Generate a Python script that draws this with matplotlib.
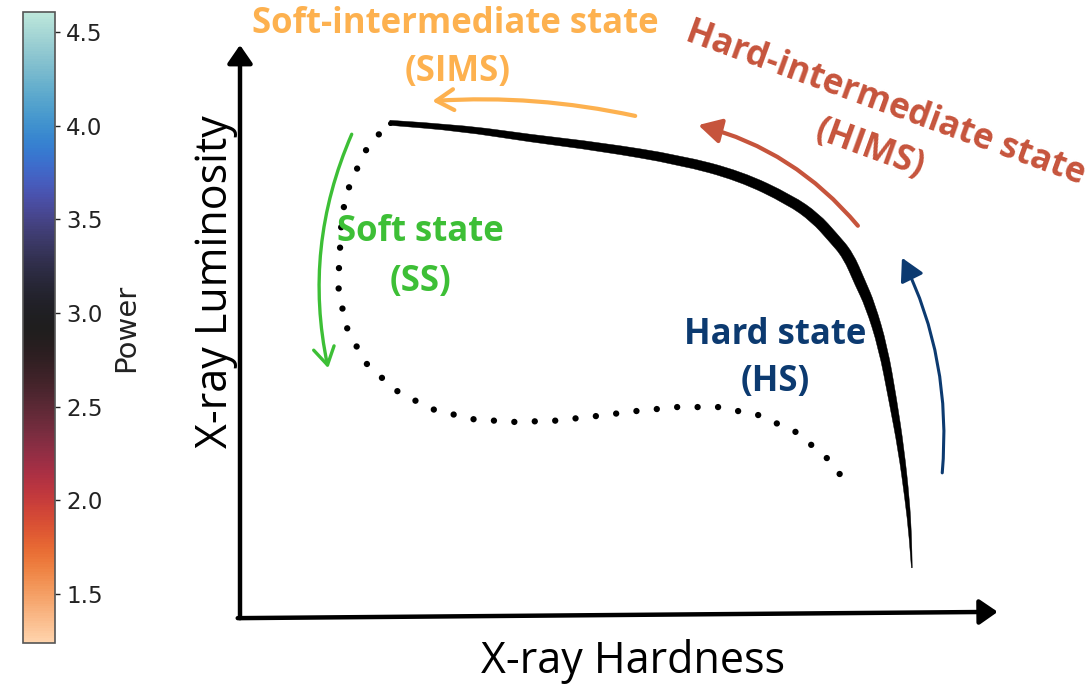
import numpy as np
import matplotlib
matplotlib.use("Agg")
import matplotlib.pyplot as plt
import matplotlib.colors as mcolors
from matplotlib.path import Path
from matplotlib.patches import PathPatch
from matplotlib.transforms import IdentityTransform
import seaborn as sns

# ---------------- data (schematic) ----------------
# main (thick) outburst track: hardness vs luminosity, normalised 0..1
track_hardness = [0.197, 0.290, 0.382, 0.474, 0.579, 0.658, 0.724, 0.757,
                  0.780, 0.800, 0.816, 0.829, 0.846, 0.859, 0.870, 0.878,
                  0.882, 0.884]
track_luminosity = [0.864, 0.855, 0.837, 0.822, 0.799, 0.771, 0.729, 0.698,
                    0.664, 0.633, 0.584, 0.546, 0.472, 0.379, 0.292, 0.205,
                    0.143, 0.086]

# decay (dotted) track
decay_hardness = [0.197, 0.168, 0.145, 0.134, 0.132, 0.129, 0.139, 0.164,
                  0.204, 0.251, 0.305, 0.359, 0.413, 0.467, 0.521, 0.575,
                  0.629, 0.682, 0.732, 0.772, 0.789]
decay_luminosity = [0.865, 0.822, 0.759, 0.703, 0.654, 0.580, 0.510, 0.446,
                    0.397, 0.364, 0.346, 0.341, 0.343, 0.351, 0.360, 0.367,
                    0.367, 0.353, 0.323, 0.278, 0.250]

# state labels and their transition arrows (tail -> head)
state_titles = ["Soft-intermediate state", "Hard-intermediate state",
                "Soft state", "Hard state"]
state_abbrev = ["(SIMS)", "(HIMS)", "(SS)", "(HS)"]
arrow_tail = [(0.520, 0.876), (0.813, 0.684), (0.147, 0.844), (0.924, 0.252)]
arrow_head = [(0.253, 0.902), (0.603, 0.860), (0.116, 0.435), (0.871, 0.628)]

x_label = "X-ray Hardness"
y_label = "X-ray Luminosity"
cbar_label = "Power"
cbar_range = (1.238, 4.607)
cbar_ticks = [1.5, 2.0, 2.5, 3.0, 3.5, 4.0, 4.5]

# ---------------- styles ----------------
track_thickness_px = [5, 6.5, 7.5, 8.5, 9.5, 10, 10.5, 11, 11, 11, 11, 10, 9, 8, 6, 4.5, 2.5, 0.8]
state_colors = ["#FDB14F", "#C6543C", "#3DBF36", "#0C3A70"]
title_pos = [(0.283, 1.037), (0.849, 0.897), (0.237, 0.673), (0.704, 0.493)]
abbrev_pos = [(0.286, 0.953), (0.829, 0.818), (0.237, 0.586), (0.704, 0.411)]
text_rot = [0, -20, 0, 0]
arrow_rad = [0.07, 0.16, 0.16, 0.14]
arrow_styles = ["->,head_length=0.5,head_width=0.3",
                "-|>,head_length=0.55,head_width=0.3",
                "->,head_length=0.5,head_width=0.3",
                "-|>,head_length=0.55,head_width=0.3"]
arrow_lw = [3.0, 3.0, 2.4, 2.2]

W, H, DPI = 1088, 686, 100
fig = plt.figure(figsize=(W / DPI, H / DPI), dpi=DPI)

# ---------------- main axes ----------------
ax = fig.add_axes([240 / W, 69 / H, 760 / W, 572 / H])
ax.set_xlim(0, 1)
ax.set_ylim(0, 1)
ax.axis("off")

# axis arrows
axis_style = "-|>,head_length=0.55,head_width=0.38"
ax.annotate("", xy=(0.0, 1.0), xytext=(0.0, -0.002),
            arrowprops=dict(arrowstyle=axis_style, color="black", lw=3.2,
                            mutation_scale=20, shrinkA=0, shrinkB=0),
            annotation_clip=False)
ax.annotate("", xy=(0.997, 0.009), xytext=(-0.003, -0.002),
            arrowprops=dict(arrowstyle=axis_style, color="black", lw=3.2,
                            mutation_scale=20, shrinkA=0, shrinkB=0),
            annotation_clip=False)

# thick track: smooth outline with varying width (built in display space)
pd = ax.transData.transform(np.column_stack([track_hardness, track_luminosity]))
tan = np.gradient(pd, axis=0)
tan /= np.linalg.norm(tan, axis=1)[:, None]
nrm = np.column_stack([-tan[:, 1], tan[:, 0]])
hw = np.asarray(track_thickness_px, dtype=float)[:, None] / 2.0
left = pd + nrm * hw
right = (pd - nrm * hw)[::-1]


def smooth_side(p):
    verts = [p[0]]
    codes = [Path.LINETO]
    for i in range(1, len(p) - 1):
        verts += [p[i], (p[i] + p[i + 1]) / 2.0]
        codes += [Path.CURVE3, Path.CURVE3]
    verts.append(p[-1])
    codes.append(Path.LINETO)
    return verts, codes


vl, cl = smooth_side(left)
vr, cr = smooth_side(right)
verts = vl + vr + [left[0]]
codes = [Path.MOVETO] + cl[1:] + cr + [Path.CLOSEPOLY]
track_patch = PathPatch(Path(np.array(verts), codes), facecolor="black",
                        edgecolor="black", lw=0.3, transform=IdentityTransform())
fig.add_artist(track_patch)
# rounded start of the track
ax.plot(track_hardness[:1], track_luminosity[:1], "o", color="black",
        ms=track_thickness_px[0] * 0.72, mew=0)

# dotted decay track (drawn from its end so a dot lands on the last point)
ax.plot(decay_hardness[::-1], decay_luminosity[::-1], color="black", lw=4.6,
        linestyle=(0, (0.001, 3.2)), dash_capstyle="round",
        solid_capstyle="round")

# state arrows and labels
for i in range(4):
    ax.annotate("", xy=arrow_head[i], xytext=arrow_tail[i],
                arrowprops=dict(arrowstyle=arrow_styles[i], color=state_colors[i],
                                lw=arrow_lw[i], mutation_scale=25,
                                connectionstyle=f"arc3,rad={arrow_rad[i]}",
                                shrinkA=0, shrinkB=0),
                annotation_clip=False)
    for txt, pos in ((state_titles[i], title_pos[i]), (state_abbrev[i], abbrev_pos[i])):
        ax.text(pos[0], pos[1], txt, color=state_colors[i], fontsize=25,
                fontweight="bold", family="Open Sans", ha="center", va="center",
                rotation=text_rot[i], rotation_mode="anchor", clip_on=False)

ax.text(0.517, -0.098, x_label, fontsize=31, family="Open Sans",
        ha="center", va="baseline", clip_on=False)
ax.text(-0.017, 0.586, y_label, fontsize=31, family="Open Sans",
        ha="center", va="baseline", rotation=90, rotation_mode="anchor",
        clip_on=False)

# ---------------- colorbar ----------------
cax = fig.add_axes([23 / W, 43 / H, 32 / W, 631 / H])
cmap = sns.color_palette("icefire_r", as_cmap=True)
norm = mcolors.Normalize(vmin=cbar_range[0], vmax=cbar_range[1])
sm = matplotlib.cm.ScalarMappable(norm=norm, cmap=cmap)
cb = fig.colorbar(sm, cax=cax, ticks=cbar_ticks)
cb.outline.set_edgecolor("#555555")
cb.outline.set_linewidth(1.2)
cax.tick_params(labelsize=16.5, length=3.5, width=1, pad=4.5, colors="#222222")
cb.set_label(cbar_label, fontsize=21, color="#222222")
cax.yaxis.set_label_coords(2.8, 0.5)

fig.savefig("out.png", dpi=DPI)
